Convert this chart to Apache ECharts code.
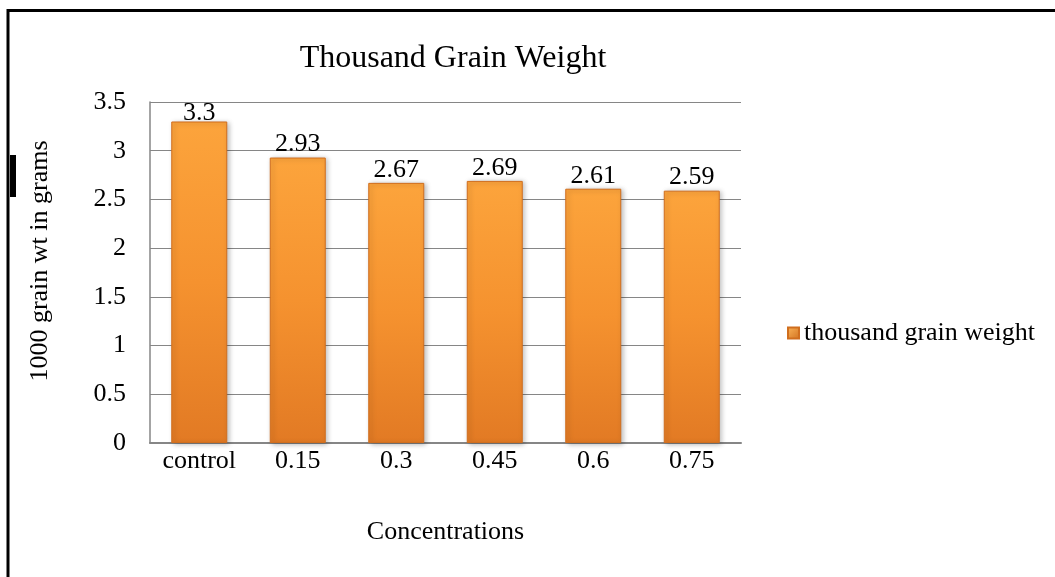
<!DOCTYPE html>
<html>
<head>
<meta charset="utf-8">
<script src="https://cdn.jsdelivr.net/npm/echarts@6/dist/echarts.min.js"></script>
<style>
  html, body { margin: 0; padding: 0; background: #ffffff; }
  #chart { width: 1055px; height: 577px; }
</style>
</head>
<body>
<div id="chart"></div>
<script>
// Thousand grain weight by concentration
const categories = ['control', '0.15', '0.3', '0.45', '0.6', '0.75'];
const grainWeight = [3.3, 2.93, 2.67, 2.69, 2.61, 2.59];
const seriesName = 'thousand grain weight';

const serif = '"Liberation Serif", "DejaVu Serif", serif';
const gridGray = '#868686';
const plotTop = 102;

const barFill = new echarts.graphic.LinearGradient(0, 0, 0, 1, [
  { offset: 0, color: '#FCA43C' },
  { offset: 0.5, color: '#F5922F' },
  { offset: 1, color: '#E27A24' }
]);
const iconFill = new echarts.graphic.LinearGradient(0, 0, 1, 1, [
  { offset: 0, color: '#FCB65A' },
  { offset: 1, color: '#D0701E' }
]);

const chart = echarts.init(document.getElementById('chart'), null, { renderer: 'canvas' });

chart.setOption({
  animation: false,
  backgroundColor: '#ffffff',
  title: {
    text: 'Thousand Grain Weight',
    left: 448,
    top: 38,
    textAlign: 'center',
    textStyle: { fontFamily: serif, fontSize: 32, fontWeight: 'normal', color: '#000' }
  },
  legend: {
    data: [{ name: seriesName, itemStyle: { color: iconFill } }],
    left: 782,
    top: 315,
    itemWidth: 11,
    itemHeight: 11,
    itemGap: 4,
    icon: 'rect',
    textStyle: { fontFamily: serif, fontSize: 26, color: '#000' }
  },
  grid: { left: 150, right: 314, top: plotTop, bottom: 134, containLabel: false },
  xAxis: {
    type: 'category',
    data: categories,
    name: 'Concentrations',
    nameLocation: 'middle',
    nameGap: 76,
    nameTextStyle: { fontFamily: serif, fontSize: 26, color: '#000' },
    axisLine: { show: true, lineStyle: { color: gridGray, width: 2 } },
    axisTick: { show: false },
    axisLabel: { fontFamily: serif, fontSize: 26, color: '#000', margin: 5 }
  },
  yAxis: {
    type: 'value',
    min: 0,
    max: 3.5,
    interval: 0.5,
    axisLine: { show: true, lineStyle: { color: gridGray, width: 1.5 } },
    axisTick: { show: false },
    splitLine: { show: true, lineStyle: { color: gridGray, width: 1.2 } },
    axisLabel: { fontFamily: serif, fontSize: 26, color: '#000', margin: 24 }
  },
  series: [{
    name: seriesName,
    type: 'bar',
    data: grainWeight,
    barWidth: 56,
    itemStyle: {
      color: barFill,
      borderColor: '#D06E1E',
      borderWidth: 1,
      shadowColor: 'rgba(0,0,0,0.28)',
      shadowBlur: 5,
      shadowOffsetX: 2,
      shadowOffsetY: 1
    },
    label: {
      show: true,
      position: 'top',
      distance: 0,
      fontFamily: serif,
      fontSize: 26,
      color: '#000'
    },
    // keep value labels inside the plot area
    labelLayout: function (params) {
      const overflow = plotTop - 2 - params.labelRect.y;
      return overflow > 0 ? { dy: overflow } : {};
    }
  }],
  graphic: [
    {
      type: 'text',
      x: 40,
      y: 261,
      rotation: Math.PI / 2,
      style: {
        text: '1000 grain wt in grams',
        font: '26px ' + serif,
        fill: '#000',
        align: 'center',
        verticalAlign: 'middle'
      }
    },
    {
      type: 'polyline',
      shape: { points: [[8, 577], [8, 10.5], [1055, 10.5]] },
      style: { stroke: '#000', lineWidth: 3, fill: null }
    },
    {
      type: 'rect',
      shape: { x: 10, y: 155, width: 6, height: 42 },
      style: { fill: '#000' }
    }
  ]
});
</script>
</body>
</html>
